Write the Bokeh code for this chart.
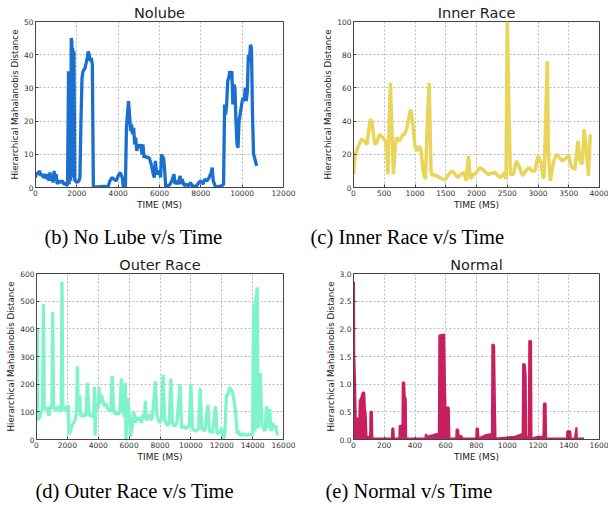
from bokeh.plotting import figure
from bokeh.layouts import column, row
from bokeh.models import Range1d, FixedTicker, Title, NumeralTickFormatter
from bokeh.embed import file_html
from bokeh.resources import INLINE

# ---------------- data ----------------
nolube_t = [0, 50, 100, 200, 250, 300, 400, 500, 550, 600, 650, 700, 750, 800, 850, 900, 950, 1000,
            1050, 1100, 1200, 1300, 1400, 1450, 1500, 1550, 1600, 1630, 1660, 1700, 1730, 1760, 1780,
            1800, 1830, 1860, 1900, 1950, 2000, 2100, 2150, 2200, 2250, 2300, 2400, 2500, 2550, 2600,
            2650, 2700, 2750, 2800, 2900, 3000, 3300, 3400, 3500, 3600, 3700, 3800, 3900, 4000, 4100,
            4200, 4250, 4350, 4400, 4450, 4500, 4550, 4600, 4650, 4700, 4750, 4800, 4850, 4900, 4950,
            5000, 5100, 5150, 5200, 5250, 5300, 5400, 5500, 5600, 5700, 5750, 5800, 5850, 5900, 6000,
            6050, 6100, 6150, 6200, 6250, 6300, 6400, 6500, 6600, 6700, 6750, 6800, 6900, 7000, 7050,
            7100, 7200, 7300, 7400, 7500, 7600, 7800, 7900, 8000, 8100, 8200, 8300, 8400, 8500, 8550,
            8600, 8700, 8800, 9000, 9100, 9150, 9200, 9250, 9300, 9350, 9400, 9450, 9500, 9550, 9600,
            9650, 9700, 9750, 9800, 9850, 9900, 10000, 10050, 10100, 10150, 10200, 10250, 10300, 10350,
            10400, 10450, 10500, 10550, 10600, 10700]
nolube_d = [3, 4.5, 4, 5, 3.5, 4, 3, 4, 2.5, 4, 2, 4.5, 2, 3.5, 1.5, 5, 2, 4,
            1, 2, 1.5, 2, 0.8, 1.5, 0.5, 1, 35, 1, 35, 2, 45, 44, 10,
            42, 3, 41, 2, 2, 1.5, 2, 3, 20, 33, 35, 36, 39, 41, 40,
            38, 39, 37, 0.3, 0.2, 0.2, 0.3, 0.3, 0.1, 2, 3, 2.5, 2, 3.5, 4.5,
            3, 0, 0, 18, 22, 26, 22, 17, 19, 16, 18, 13, 15, 11, 13,
            12, 13, 10, 13, 9, 9.5, 9, 9, 7, 4, 3, 8, 5, 4, 5,
            3, 10, 9, 9, 5, 0.2, 0.5, 0.8, 2, 4, 1, 2, 1, 3.5, 1,
            2.5, 0.5, 1, 0.5, 1.5, 0.3, 0.5, 1.5, 2, 1, 2.5, 2, 3, 4.5, 6,
            2, 0.3, 0.2, 0.5, 1, 25, 22, 25, 32, 33, 35, 34, 35, 25, 31,
            30, 20, 13, 12, 20, 22, 26, 27, 26, 30, 26, 29, 40, 38,
            43, 42, 22, 10, 9, 6.5]

inner_t = [0, 30, 80, 130, 180, 220, 250, 270, 300, 330, 350, 380, 420, 480, 520, 540, 560, 580, 600,
           620, 650, 680, 700, 750, 800, 830, 870, 900, 930, 960, 1000, 1030, 1070, 1100, 1130, 1170,
           1200, 1230, 1260, 1280, 1300, 1350, 1400, 1450, 1500, 1550, 1600, 1650, 1700, 1750, 1800,
           1830, 1870, 1900, 1950, 2000, 2050, 2100, 2150, 2200, 2300, 2350, 2400, 2450, 2480, 2500,
           2520, 2550, 2600, 2650, 2700, 2750, 2800, 2850, 2900, 2950, 3000, 3050, 3080, 3100, 3150,
           3170, 3200, 3250, 3300, 3350, 3400, 3500, 3550, 3600, 3650, 3680, 3720, 3750, 3780, 3820, 3850]
inner_d = [8, 20, 25, 29, 28, 26, 35, 41, 40, 30, 26, 27, 32, 30, 28, 22, 8, 40, 63,
           40, 8, 25, 30, 28, 32, 32, 36, 42, 47, 40, 25, 22, 25, 22, 10, 5,
           40, 63, 10, 7, 8, 7, 6, 5, 5, 8, 10, 8, 6, 8, 9,
           4, 19, 5, 8, 9, 12, 11, 9, 8, 9, 7, 6, 9, 5, 100,
           60, 8, 8, 16, 12, 7, 10, 12, 10, 10, 19, 15, 6, 6, 76,
           20, 4, 15, 20, 18, 16, 19, 12, 11, 28, 16, 14, 35, 25, 7, 32]

outer_t = [0, 50, 80, 200, 300, 400, 450, 500, 600, 700, 800, 900, 1000, 1050, 1100, 1200, 1300, 1400,
           1500, 1600, 1650, 1700, 1800, 1900, 2000, 2050, 2100, 2200, 2300, 2400, 2500, 2600, 2650,
           2700, 2800, 2850, 2900, 3000, 3100, 3200, 3300, 3400, 3500, 3600, 3700, 3750, 3800, 3850,
           3900, 4000, 4050, 4100, 4200, 4300, 4400, 4500, 4600, 4700, 4800, 4900, 5000, 5100, 5200,
           5300, 5400, 5500, 5600, 5700, 5750, 5800, 5850, 5900, 6000, 6050, 6100, 6200, 6300, 6400,
           6500, 6600, 6700, 6800, 6900, 7000, 7050, 7100, 7200, 7300, 7400, 7500, 7600, 7700, 7800,
           7900, 8000, 8100, 8200, 8300, 8400, 8500, 8600, 8700, 8800, 8900, 9000, 9100, 9300, 9400,
           9500, 9700, 9900, 10000, 10100, 10300, 10500, 10600, 10700, 10900, 11100, 11200, 11400,
           11600, 11700, 11900, 12000, 12100, 12200, 12300, 12400, 12500, 12600, 12700, 12800, 12900,
           13000, 13100, 13200, 13400, 13600, 13800, 13900, 14000, 14050, 14100, 14150, 14200, 14300,
           14350, 14400, 14500, 14600, 14700, 14800, 14900, 15000, 15100, 15200, 15300, 15400, 15500,
           15600, 15700]
outer_d = [70, 400, 70, 80, 100, 110, 490, 120, 110, 115, 85, 120, 110, 460, 120, 110, 105, 120,
           110, 100, 570, 110, 110, 120, 100, 125, 20, 30, 50, 60, 70, 100, 265,
           100, 160, 90, 85, 85, 90, 85, 205, 90, 85, 90, 80, 190, 15, 120,
           130, 110, 190, 130, 160, 140, 120, 130, 110, 110, 100, 230, 110, 90, 100,
           90, 100, 220, 110, 80, 205, 0, 80, 150, 100, 50, 10, 50, 100, 60,
           80, 70, 80, 60, 90, 80, 140, 70, 80, 90, 70, 80, 140, 210, 90,
           70, 60, 80, 235, 70, 60, 50, 60, 220, 60, 50, 50, 60, 200, 40,
           50, 40, 50, 200, 40, 30, 40, 185, 40, 30, 125, 30, 25,
           120, 20, 30, 40, 0, 20, 160, 160, 190, 180, 170, 140, 100,
           20, 30, 15, 20, 15, 20, 15, 25, 400, 490, 30, 500, 550,
           40, 100, 240, 50, 40, 30, 120, 40, 110, 30, 60, 40, 50,
           20, 20]

normal_t = [0, 3, 5, 10, 15, 20, 30, 35, 40, 50, 60, 70, 75, 80, 85, 100, 108, 110, 120, 123, 250,
            252, 260, 263, 298, 300, 310, 318, 320, 330, 334, 340, 343, 468, 470, 480, 520, 540, 555,
            558, 590, 595, 600, 608, 620, 624, 668, 670, 680, 685, 700, 710, 798, 800, 810, 813, 860,
            900, 903, 915, 920, 924, 1050, 1100, 1103, 1115, 1120, 1124, 1140, 1143, 1155, 1158, 1200,
            1235, 1238, 1250, 1253, 1388, 1390, 1410, 1413, 1440, 1450, 1453, 1500]
normal_d = [0.02, 2.85, 1.55, 1.1, 0.4, 0.38, 0.38, 0.1, 0.7, 0.75, 0.85, 0.85, 0.55, 0.45, 0.05, 0.05, 0.05, 0.5, 0.5, 0.02, 0.02,
            0.2, 0.2, 0.02, 0.02, 0.25, 0.25, 0.25, 1.03, 1.03, 0.75, 0.75, 0.02, 0.02, 0.1, 0.05, 0.08, 0.1, 0.1,
            1.88, 1.9, 1.05, 0.4, 0.58, 0.58, 0.02, 0.02, 0.18, 0.18, 0.05, 0.07, 0.02, 0.02, 0.2, 0.2, 0.02, 0.08,
            0.1, 1.72, 1.7, 0.65, 0.02, 0.05, 0.1, 1.37, 1.35, 1.15, 0.05, 0.05, 1.78, 1.78, 0.02, 0.05,
            0.05, 0.65, 0.65, 0.02, 0.02, 0.15, 0.15, 0.02, 0.02, 0.22, 0.02, 0.02]

panel_titles = ["Nolube", "Inner Race", "Outer Race", "Normal"]
captions = ["(b) No Lube v/s Time", "(c) Inner Race v/s Time", "(d) Outer Race v/s Time", "(e) Normal v/s Time"]
x_ticks = [list(range(0, 12001, 2000)), list(range(0, 4001, 500)),
           list(range(0, 16001, 2000)), list(range(0, 1601, 200))]
y_ticks = [[0, 10, 20, 30, 40, 50], [0, 20, 40, 60, 80, 100],
           [0, 100, 200, 300, 400, 500, 600], [0.0, 0.5, 1.0, 1.5, 2.0, 2.5, 3.0]]
x_label = "TIME (MS)"
y_label = "Hierarchical Mahalanobis Distance"

SANS = "DejaVu Sans"
SERIF = "Liberation Serif"


def make_fig(idx, width, height, left, right, top, bottom, cap_offset, cap_gap):
    xt, yt = x_ticks[idx], y_ticks[idx]
    p = figure(width=width, height=height, output_backend="svg", toolbar_location=None,
               x_range=Range1d(xt[0], xt[-1]), y_range=Range1d(yt[0], yt[-1]),
               min_border_left=left, min_border_right=right,
               min_border_top=top, min_border_bottom=bottom)
    p.title.text = panel_titles[idx]
    p.title.text_font = SANS
    p.title.text_font_size = "14.5px"
    p.title.text_font_style = "normal"
    p.title.text_color = "#222222"
    p.title.align = "center"
    p.title.vertical_align = "middle"
    p.title.standoff = 0
    p.outline_line_color = "#444444"
    p.outline_line_width = 1
    p.xaxis.ticker = FixedTicker(ticks=xt)
    p.yaxis.ticker = FixedTicker(ticks=yt)
    if idx == 3:
        p.yaxis.formatter = NumeralTickFormatter(format="0.0")
    for ax in (p.xaxis[0], p.yaxis[0]):
        ax.major_tick_in = 3
        ax.major_tick_out = 0
        ax.minor_tick_line_color = None
        ax.axis_line_color = "#444444"
        ax.major_tick_line_color = "#444444"
        ax.major_label_text_font = SANS
        ax.major_label_text_font_size = "7.5px"
        ax.major_label_text_color = "#333333"
        ax.axis_label_text_font = SANS
        ax.axis_label_text_font_size = "8.7px"
        ax.axis_label_text_font_style = "normal"
        ax.axis_label_text_color = "#222222"
        ax.major_label_standoff = 2
        ax.axis_label_standoff = 1
    p.xaxis.axis_label = x_label
    p.yaxis.axis_label = y_label
    p.xaxis.axis_label_text_font_size = "9px"
    p.grid.grid_line_color = "#aaaaaa"
    p.grid.grid_line_dash = "2 2"
    p.grid.grid_line_width = 0.8
    # small spacer between the axis label and the caption
    p.add_layout(Title(text=" ", text_font_size="1px", standoff=cap_gap), "below")
    cap = Title(text=captions[idx], text_font=SERIF, text_font_size="20.5px",
                text_font_style="normal", align="left", vertical_align="middle",
                offset=cap_offset, standoff=0, text_color="black")
    p.add_layout(cap, "below")
    return p


p1 = make_fig(0, 300, 251, 35, 17, 21, 64, 9, 9)
p1.line(nolube_t, nolube_d, line_color="#1b6fcf", line_width=3.3)

p2 = make_fig(1, 308, 251, 53, 9, 21, 64, -43, 9)
p2.line(inner_t, inner_d, line_color="#e9d55a", line_width=3.5)

p3 = make_fig(2, 300, 256, 36, 17, 22, 68, -1, 11)
p3.line(outer_t, outer_d, line_color="#7ef3cc", line_width=3.3)

p4 = make_fig(3, 308, 256, 53, 9, 22, 68, -28, 11)
p4.varea(x=normal_t, y1=[0] * len(normal_t), y2=normal_d, fill_color="#c8205f")
p4.line(normal_t, normal_d, line_color="#c8205f", line_width=2)

layout = column(row(p1, p2), row(p3, p4))

with open("out.html", "w") as f:
    f.write(file_html(layout, INLINE))
